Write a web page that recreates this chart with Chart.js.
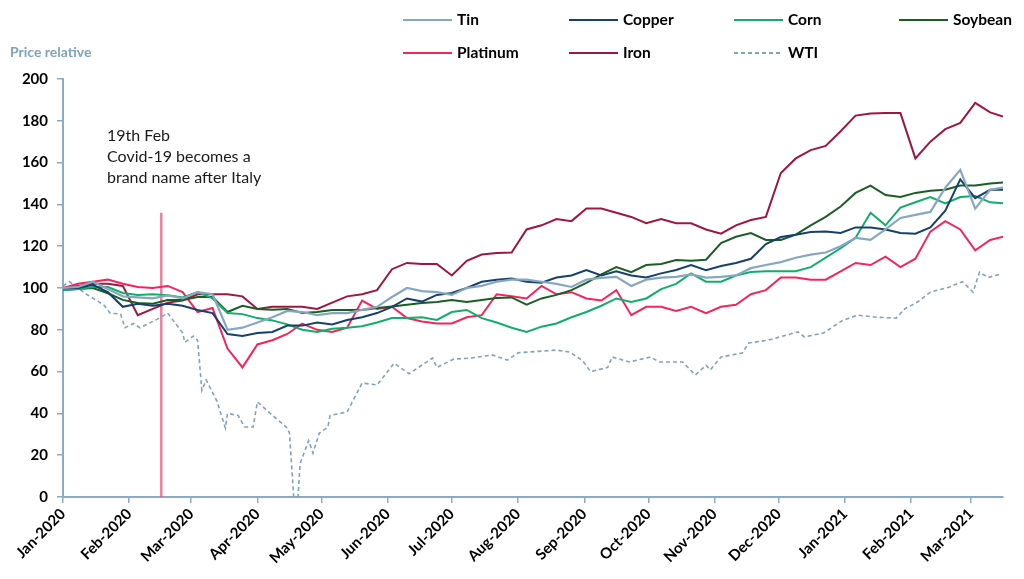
<!DOCTYPE html>
<html>
<head>
<meta charset="utf-8">
<script src="https://cdn.jsdelivr.net/npm/chart.js@4.4.1/dist/chart.umd.min.js"></script>
<style>
body{margin:0;background:#fff}
canvas{display:block}
</style>
</head>
<body>
<canvas id="chart" width="1024" height="579"></canvas>
<script>
// weekly readings, price relative (1 Jan 2020 = 100)
const dates=["2020-01-01","2020-01-08","2020-01-15","2020-01-22","2020-01-29","2020-02-05","2020-02-12","2020-02-19","2020-02-26",
"2020-03-04","2020-03-11","2020-03-18","2020-03-25","2020-04-01","2020-04-08","2020-04-15","2020-04-22","2020-04-29",
"2020-05-06","2020-05-13","2020-05-20","2020-05-27","2020-06-03","2020-06-10","2020-06-17","2020-06-24",
"2020-07-01","2020-07-08","2020-07-15","2020-07-22","2020-07-29","2020-08-05","2020-08-12","2020-08-19","2020-08-26",
"2020-09-02","2020-09-09","2020-09-16","2020-09-23","2020-09-30","2020-10-07","2020-10-14","2020-10-21","2020-10-28",
"2020-11-04","2020-11-11","2020-11-18","2020-11-25","2020-12-02","2020-12-09","2020-12-16","2020-12-23","2020-12-30",
"2021-01-06","2021-01-13","2021-01-20","2021-01-27","2021-02-03","2021-02-10","2021-02-17","2021-02-24",
"2021-03-03","2021-03-10","2021-03-16"]

const tin=[100,100.5,103,99.5,96,95.5,95,96.5,95,98,97,80,81,83.5,86,89,88.5,87,88,88,89.5,91,95.7,100,98.5,98,96.7,100,101,103,104,104,103,102,100.5,104,104.8,105.3,101,104,105,105.3,106.5,105,105.3,106,109.5,111,112.4,114.5,116,117,120,124,123,128,133.5,135,136.4,148,156.5,138,147,148]
const copper=[100,100,101.5,98,91,92.5,91.5,92.5,91.5,89.5,88,78,77,78.5,79,82,82,83.5,82.5,84.7,86,88,91,95,93.5,96.7,97.6,100,103,104,104.5,103,102.5,105,106,108.6,106,108,106,105,107,108.6,111,108.5,110.5,112,114,121,124.4,125.5,126.8,127,126.3,129,129,128,126.3,126,129,137,152,143,147,147]
const corn=[99,99.5,100.5,100.5,97.6,96.7,97,96.5,95.5,98,95,88,87.5,85.6,84.5,82.6,80,79,80.5,81,81.7,83.5,85.6,85.6,86,84.7,88.5,89.5,85.6,83.5,81,79,81.5,83,86,88.5,91.5,95,93.3,95,99.5,102,107,103,103,106,107.6,108,108,108,110,114.5,119,124,136,130,138.5,141,143.5,140.5,143.5,144,141,140.5]
const soybean=[99,99.5,100,97.5,94.3,92.8,92.5,94.3,94.3,95.7,95.7,88.5,91.5,90,89.6,90,88,88.5,89.5,89.5,89.5,90.4,91.2,92,92.8,93.3,94.3,93.3,94.3,95.2,95.5,92,95,96.7,99,102.5,106.5,110,107.6,111,111.5,113.4,113,113.5,121.5,124.5,126.3,123,123,125.5,130,134,139,145.5,149,144.5,143.5,145.5,146.5,147,149,149,150,150.5]
const platinum=[100,102,103,104,102,100.5,100,101,98,88.5,90.4,71,62,73,75,78,83,80,79,81,94,90,91,85.6,84,83,83,86,87,97,96,95,101,97,98,95,94,99,87,91,91,89,91,88,91,92,97,99,105,105,104,104,108,112,111,115,110,114,127,132,128,118,123,124.5]
const iron=[100,101,102,102,101,87,90,93,94,97,97,97,96,90,91,91,91,90,93,96,97,99,109,112,111.5,111.5,106,113,116,116.7,117,128,130,133,132,138,138,136,134,131,133,131,131,128,126,130,132.5,134,155,162,166,168,175,182.5,183.5,183.7,183.7,162,170,176,179,188.6,184,182]

// WTI has its own dates (the April 2020 crash)
const wtiDates=["2020-01-01","2020-01-04","2020-01-12","2020-01-20","2020-01-23","2020-01-28","2020-01-30","2020-02-03","2020-02-06","2020-02-14",
"2020-02-19","2020-02-26","2020-02-27","2020-03-02","2020-03-04","2020-03-06","2020-03-08","2020-03-13","2020-03-17","2020-03-18",
"2020-03-23","2020-03-26","2020-03-30","2020-04-01","2020-04-07","2020-04-15","2020-04-16","2020-04-18","2020-04-20","2020-04-21",
"2020-04-25","2020-04-27","2020-04-30","2020-05-04","2020-05-05","2020-05-13","2020-05-20","2020-05-27","2020-06-04","2020-06-11",
"2020-06-22","2020-06-24","2020-07-02","2020-07-10","2020-07-20","2020-07-27","2020-08-01","2020-08-19","2020-08-25","2020-08-31",
"2020-09-04","2020-09-12","2020-09-14","2020-09-22","2020-10-02","2020-10-06","2020-10-17","2020-10-23","2020-10-28","2020-10-30",
"2020-11-04","2020-11-14","2020-11-17","2020-11-26","2020-12-10","2020-12-13","2020-12-22","2020-12-31","2021-01-07","2021-01-16",
"2021-01-25","2021-01-29","2021-02-04","2021-02-10","2021-02-19","2021-02-25","2021-03-02","2021-03-05","2021-03-09","2021-03-15"]
const wti=[101,103,97,92,88,87.5,81,83,81,85,
88,78.5,74,77,75,51,56,46,33,40,
39,33.5,33.5,45.5,40,33,30.6,0,0,16,
27,21,30.6,33.5,39,40.7,54.5,53.6,64,59,
66.5,62,66,66.5,68,65.5,69,70.3,69.4,65.5,
60,62,67,64.6,67,64.6,64.6,58.4,63,60.8,
67,68.9,73.7,75,79,76.6,78.5,84.5,87,86,
85.6,90,93.3,98,100.5,103,98,107.6,105,106.7]

const monthDates=["2020-01-01","2020-02-01","2020-03-01","2020-04-01","2020-05-01","2020-06-01","2020-07-01","2020-08-01",
"2020-09-01","2020-10-01","2020-11-01","2020-12-01","2021-01-01","2021-02-01","2021-03-01"]
const monthLabels=["Jan-2020","Feb-2020","Mar-2020","Apr-2020","May-2020","Jun-2020","Jul-2020","Aug-2020",
"Sep-2020","Oct-2020","Nov-2020","Dec-2020","Jan-2021","Feb-2021","Mar-2021"]

const markerDate="2020-02-16"
const markerTop=136
const noteLines=["19th Feb","Covid-19 becomes a","brand name after Italy"]

const start=Date.parse("2020-01-01")
function dayOf(s){
return (Date.parse(s)-start)/86400000
}

function pts(ds,vals){
return ds.map((d,i)=>({x:dayOf(d),y:vals[i]}))
}

const series=[
{label:"Tin",data:tin,color:"#86a8bf",w:2.2},
{label:"Copper",data:copper,color:"#17406d",w:2},
{label:"Corn",data:corn,color:"#12ad6a",w:2},
{label:"Soybean",data:soybean,color:"#1b5e24",w:2},
{label:"Platinum",data:platinum,color:"#f5245a",w:2},
{label:"Iron",data:iron,color:"#9e1641",w:2},
{label:"WTI",data:wti,color:"#7fa3bb",w:1.6,dash:[4,3]}
]

const datasets=series.map(s=>({
label:s.label,
data:s.label==="WTI"?pts(wtiDates,s.data):pts(dates,s.data),
borderColor:s.color,
borderWidth:s.w,
borderDash:s.dash||[],
pointRadius:0,
tension:0,
fill:false
}))

datasets.push({
label:"marker",
data:[{x:dayOf(markerDate),y:0},{x:dayOf(markerDate),y:markerTop}],
borderColor:"rgba(236,84,122,0.75)",
borderWidth:2.5,
pointRadius:0
})

const extras={
id:"extras",
afterDraw(chart){

const c=chart.ctx
c.save()

c.font="bold 14px Lato"
c.fillStyle="#7fa3ba"
c.textBaseline="middle"
c.textAlign="left"
c.fillText("Price relative",10,52)

c.font="16px Lato"
c.fillStyle="#1a1a1a"
noteLines.forEach((t,i)=>c.fillText(t,107,136+i*21))

const cols=[403,569,734,899]
const rows=[20,53]
c.font="bold 15.5px Lato"
series.forEach((s,i)=>{
const x=cols[i%4]
const y=rows[Math.floor(i/4)]
c.strokeStyle=s.color
c.lineWidth=2
c.setLineDash(s.dash||[])
c.beginPath()
c.moveTo(x,y)
c.lineTo(x+49,y)
c.stroke()
c.setLineDash([])
c.fillStyle="#000"
c.fillText(s.label,x+54,y)
})

c.restore()
}
}

const axisColor="#8aabc1"

new Chart(document.getElementById("chart"),{
type:"line",
data:{datasets:datasets},
plugins:[extras],
options:{
responsive:false,
animation:false,
devicePixelRatio:1,
layout:{padding:{top:79,right:21,left:0,bottom:0}},
plugins:{legend:{display:false},tooltip:{enabled:false}},
scales:{
x:{
type:"linear",
min:0,
max:440,
afterBuildTicks:s=>{s.ticks=monthDates.map(d=>({value:dayOf(d)}))},
afterFit:s=>{s.height=82},
border:{color:axisColor,width:2},
grid:{drawOnChartArea:false,color:axisColor,tickLength:6,lineWidth:1.5},
ticks:{
autoSkip:false,
maxRotation:45,
minRotation:45,
padding:2,
color:"#000",
font:{family:"Lato",size:15,weight:"bold"},
callback:(v,i)=>monthLabels[i]
}
},
y:{
min:0,
max:200,
afterFit:s=>{s.width=63},
border:{color:axisColor,width:2},
grid:{drawOnChartArea:false,color:axisColor,tickLength:6,lineWidth:1.5},
ticks:{
stepSize:20,
padding:9,
color:"#000",
font:{family:"Lato",size:15,weight:"bold"}
}
}
}
}
})
</script>
</body>
</html>
